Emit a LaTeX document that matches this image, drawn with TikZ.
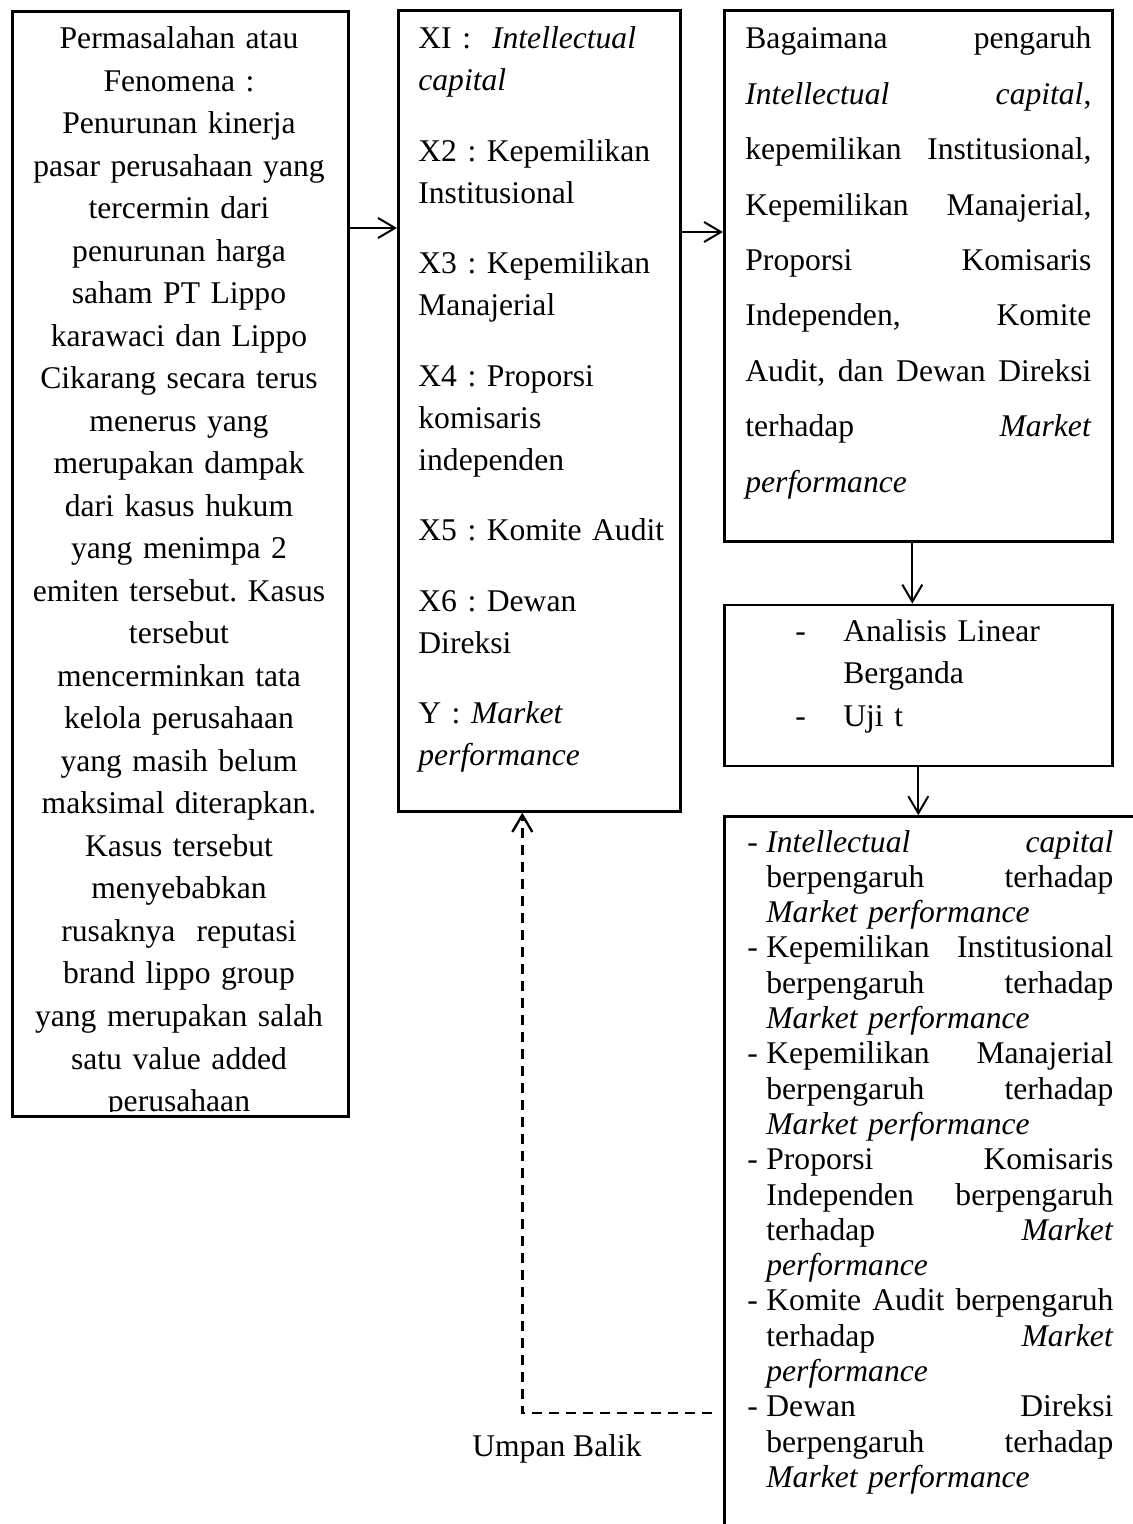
\documentclass[tikz,border=0pt]{standalone}
\usepackage{fontspec}
\setmainfont{Liberation Serif}
\usetikzlibrary{positioning, arrows.meta}

\newcommand{\jline}[1]{\leavevmode\hbox to 173pt{#1}}
\newcommand{\bitem}[1]{\leavevmode\makebox[9.5pt][l]{-}\hbox to 173.5pt{#1}}
\newcommand{\bcont}[1]{\leavevmode\hspace*{9.5pt}\hbox to 173.5pt{#1}}
\newcommand{\blast}[1]{\leavevmode\hspace*{9.5pt}#1}

\begin{document}
\frenchspacing
\begin{tikzpicture}[
  x=0.5pt, y=-0.5pt,
  frame/.style={rectangle, draw, line width=1.3pt, inner sep=0pt, anchor=north west},
  txt/.style={inner sep=0pt, anchor=base west, align=left},
  arr/.style={-{Straight Barb[length=8.5pt,width=10pt]}, line width=1pt},
  fbarr/.style={arr, line width=1.2pt, dash pattern=on 5pt off 3.5pt}
]
  \useasboundingbox (0,0) rectangle (1132,1524);

  \node[frame, minimum width=168pt, minimum height=552.5pt] (prob) at (11,10) {};
  \node[frame, minimum width=141pt, minimum height=400.5pt] (vars) at (397,9) {};
  \node[frame, minimum width=194pt, minimum height=265.5pt] (quest) at (723,9) {};
  \node[frame, minimum width=194pt, minimum height=80.5pt, below=30.5pt of quest] (ana) {};
  \node[frame, minimum width=225pt, minimum height=400pt, below=24pt of ana.south west, anchor=north west] (res) {};

  \begin{scope}
    \clip (prob.north west) rectangle ([yshift=3pt]prob.south east);
    \node[txt, anchor=base, align=center, text width=165pt,
          font=\fontsize{15.8}{21.25}\selectfont] (probtxt) at (179,49)
      {Permasalahan atau\\ Fenomena :\\ Penurunan kinerja\\ pasar perusahaan yang\\
       tercermin dari\\ penurunan harga\\ saham PT Lippo\\ karawaci dan Lippo\\
       Cikarang secara terus\\ menerus yang\\ merupakan dampak\\ dari kasus hukum\\
       yang menimpa 2\\ emiten tersebut. Kasus\\ tersebut\\ mencerminkan tata\\
       kelola perusahaan\\ yang masih belum\\ maksimal diterapkan.\\ Kasus tersebut\\
       menyebabkan\\ rusaknya\ \ reputasi\\ brand lippo group\\ yang merupakan salah\\
       satu value added\\ perusahaan};
  \end{scope}

  \node[txt, text width=130pt, font=\fontsize{15.8}{21}\selectfont] (varstxt) at (418,49)
    {XI :\ \ \textit{Intellectual}\\ \textit{capital}\\[14.25pt]
     X2 : Kepemilikan\\ Institusional\\[14.25pt]
     X3 : Kepemilikan\\ Manajerial\\[14.25pt]
     X4 : Proporsi\\ komisaris\\ independen\\[14.25pt]
     X5 : Komite Audit\\[14.25pt]
     X6 : Dewan\\ Direksi\\[14.25pt]
     Y : \textit{Market}\\ \textit{performance}};

  \node[txt, text width=173pt, font=\fontsize{15.8}{27.7}\selectfont] (questtxt) at (745,49)
    {\jline{Bagaimana\hfill pengaruh}\\
     \jline{\textit{Intellectual}\hfill\textit{capital},}\\
     \jline{kepemilikan\hfill Institusional,}\\
     \jline{Kepemilikan\hfill Manajerial,}\\
     \jline{Proporsi\hfill Komisaris}\\
     \jline{Independen,\hfill Komite}\\
     \jline{Audit,\hfill dan\hfill Dewan\hfill Direksi}\\
     \jline{terhadap\hfill\textit{Market}}\\
     \textit{performance}};

  \node[txt, text width=150pt, font=\fontsize{15.8}{21.25}\selectfont] (anatxt) at (795,641)
    {\makebox[24pt][l]{-}Analisis Linear\\
     \hspace*{24pt}Berganda\\
     \makebox[24pt][l]{-}Uji t};

  \node[txt, text width=183pt, font=\fontsize{15.8}{17.65}\selectfont] (restxt) at (747,852)
    {\bitem{\textit{Intellectual}\hfill\textit{capital}}\\
     \bcont{berpengaruh\hfill terhadap}\\
     \blast{\textit{Market performance}}\\
     \bitem{Kepemilikan\hfill Institusional}\\
     \bcont{berpengaruh\hfill terhadap}\\
     \blast{\textit{Market performance}}\\
     \bitem{Kepemilikan\hfill Manajerial}\\
     \bcont{berpengaruh\hfill terhadap}\\
     \blast{\textit{Market performance}}\\
     \bitem{Proporsi\hfill Komisaris}\\
     \bcont{Independen\hfill berpengaruh}\\
     \bcont{terhadap\hfill\textit{Market}}\\
     \blast{\textit{performance}}\\
     \bitem{Komite\hfill Audit\hfill berpengaruh}\\
     \bcont{terhadap\hfill\textit{Market}}\\
     \blast{\textit{performance}}\\
     \bitem{Dewan\hfill Direksi}\\
     \bcont{berpengaruh\hfill terhadap}\\
     \blast{\textit{Market performance}}};

  \node[inner sep=0pt, anchor=base, font=\fontsize{15.8}{19}\selectfont] (fblabel) at (557,1456) {Umpan Balik};

  \coordinate (a1) at ([yshift=-109pt]prob.north east);
  \coordinate (a2) at ([yshift=-111.5pt]vars.north east);
  \coordinate (a3) at ([xshift=-3pt]quest.south);
  \coordinate (fb) at (712,1413);
  \coordinate (fbend) at ([xshift=-8.5pt]vars.south);

  \draw[arr] (a1) -- (a1 -| vars.west);
  \draw[arr] (a2) -- (a2 -| quest.west);
  \draw[arr] (a3) -- (a3 |- ana.north);
  \draw[arr] (ana.south) -- (ana.south |- res.north);
  \draw[fbarr] (fb) -| (fbend);
\end{tikzpicture}
\end{document}
